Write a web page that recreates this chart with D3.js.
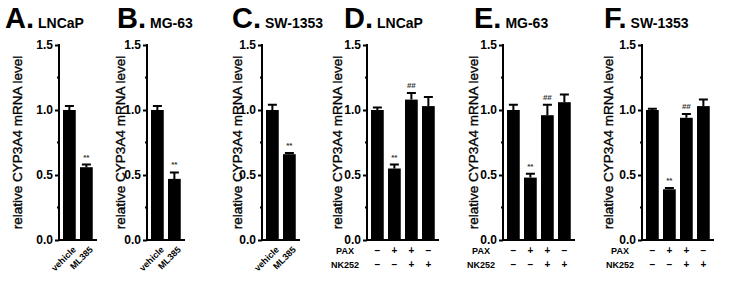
<!DOCTYPE html>
<html>
<head>
<meta charset="utf-8">
<script src="https://cdn.jsdelivr.net/npm/d3@7"></script>
<style>
  body { margin: 0; background: #fff; }
  svg { display: block; }
  text { font-family: Arial, "Liberation Sans", sans-serif; fill: #000; }
</style>
</head>
<body>
<div class="canvas"></div>
<script>
// values
const yTicks = [0, 0.5, 1.0, 1.5];
const mlLabels = ["vehicle", "ML385"];
const paxRow = ["–", "+", "+", "–"];
const nkRow = ["–", "–", "+", "+"];

const lncapML = [1.0, 0.56];
const lncapMLErr = [0.03, 0.02];
const mg63ML = [1.0, 0.47];
const mg63MLErr = [0.03, 0.05];
const swML = [1.0, 0.66];
const swMLErr = [0.04, 0.01];

const lncapPax = [1.0, 0.55, 1.08, 1.03];
const lncapPaxErr = [0.02, 0.03, 0.05, 0.07];
const mg63Pax = [1.0, 0.48, 0.96, 1.06];
const mg63PaxErr = [0.04, 0.03, 0.08, 0.06];
const swPax = [1.0, 0.39, 0.94, 1.03];
const swPaxErr = [0.01, 0.01, 0.03, 0.05];

const mlMarks = ["", "**"];
const paxMarks = ["", "**", "##", ""];

const panels = [
    { letter: "A.", cell: "LNCaP", ax: 59, lx: 17, tx: 5, vals: lncapML, errs: lncapMLErr, marks: mlMarks, kind: "ml" },
    { letter: "B.", cell: "MG-63", ax: 147, lx: 120, tx: 117, vals: mg63ML, errs: mg63MLErr, marks: mlMarks, kind: "ml" },
    { letter: "C.", cell: "SW-1353", ax: 262, lx: 237, tx: 232, vals: swML, errs: swMLErr, marks: mlMarks, kind: "ml" },
    { letter: "D.", cell: "LNCaP", ax: 367, lx: 337, tx: 344, vals: lncapPax, errs: lncapPaxErr, marks: paxMarks, kind: "pax" },
    { letter: "E.", cell: "MG-63", ax: 503, lx: 473, tx: 474, vals: mg63Pax, errs: mg63PaxErr, marks: paxMarks, kind: "pax" },
    { letter: "F.", cell: "SW-1353", ax: 642, lx: 608, tx: 604, vals: swPax, errs: swPaxErr, marks: paxMarks, kind: "pax" }
];

const svg = d3.select(".canvas")
    .append("svg")
    .attr("width", 729)
    .attr("height", 287);

const y = d3.scaleLinear().domain([0, 1.5]).range([240, 45]);

panels.forEach(p => {
    const g = svg.append("g");
    const n = p.vals.length;
    const step = 17;
    const x = d3.scaleBand()
        .domain(d3.range(n))
        .range([p.ax + 4, p.ax + 4 + n * step - 4.25])
        .paddingInner(0.25)
        .paddingOuter(0);
    const right = p.ax + 4 + n * step;

    // title
    const title = g.append("text")
        .attr("x", p.tx)
        .attr("y", 28);
    title.append("tspan")
        .style("font-size", "29px")
        .style("font-weight", "bold")
        .text(p.letter);
    title.append("tspan")
        .attr("dx", 4)
        .style("font-size", "14px")
        .style("font-weight", "bold")
        .text(p.cell);

    // y axis label
    g.append("text")
        .attr("transform", "translate(" + p.lx + "," + y(0.75) + ") rotate(-90)")
        .attr("text-anchor", "middle")
        .attr("dy", "0.35em")
        .style("font-size", "13.5px")
        .style("stroke", "#000")
        .style("stroke-width", 0.35)
        .text("relative CYP3A4 mRNA level");

    // y axis
    const yAxis = d3.axisLeft(y)
        .tickValues(yTicks)
        .tickFormat(d3.format(".1f"))
        .tickSize(4)
        .tickPadding(2);
    const ya = g.append("g")
        .attr("transform", "translate(" + p.ax + ",0)")
        .call(yAxis);
    ya.select(".domain").remove();
    ya.selectAll(".tick line").attr("stroke", "#000").attr("stroke-width", 2);
    ya.selectAll(".tick text")
        .style("font-size", "12px")
        .style("font-weight", "bold")
        .style("font-family", "Arial, 'Liberation Sans', sans-serif");

    // minor ticks
    g.selectAll(".minor")
        .data([0.25, 0.75, 1.25])
        .enter()
        .append("line")
        .attr("x1", p.ax - 2)
        .attr("x2", p.ax)
        .attr("y1", d => y(d))
        .attr("y2", d => y(d))
        .attr("stroke", "#000")
        .attr("stroke-width", 2);

    // axis lines
    g.append("line")
        .attr("x1", p.ax).attr("x2", p.ax)
        .attr("y1", y(1.5) - 1).attr("y2", y(0) + 1)
        .attr("stroke", "#000").attr("stroke-width", 2);
    g.append("line")
        .attr("x1", p.ax - 1).attr("x2", right)
        .attr("y1", y(0)).attr("y2", y(0))
        .attr("stroke", "#000").attr("stroke-width", 2);

    // bars
    g.selectAll(".bar")
        .data(p.vals)
        .enter()
        .append("rect")
        .attr("class", "bar")
        .attr("x", (d, i) => x(i))
        .attr("width", x.bandwidth())
        .attr("y", d => y(d))
        .attr("height", d => y(0) - y(d))
        .attr("fill", "#000");

    // error bars
    const cap = 9;
    g.selectAll(".err")
        .data(p.vals)
        .enter()
        .append("path")
        .attr("class", "err")
        .attr("d", (d, i) => {
            const cx = x(i) + x.bandwidth() / 2;
            const top = y(d + p.errs[i]);
            return "M" + cx + "," + y(d) + "V" + top + "M" + (cx - cap / 2) + "," + top + "H" + (cx + cap / 2);
        })
        .attr("stroke", "#000")
        .attr("stroke-width", 2)
        .attr("fill", "none");

    // significance marks
    g.selectAll(".sig")
        .data(p.marks)
        .enter()
        .append("text")
        .attr("x", (d, i) => x(i) + x.bandwidth() / 2)
        .attr("y", (d, i) => y(p.vals[i] + p.errs[i]) - 5)
        .attr("text-anchor", "middle")
        .style("font-size", "8px")
        .style("font-weight", "bold")
        .style("fill", "#333")
        .text(d => d);

    if (p.kind === "ml") {
        g.selectAll(".xl")
            .data(mlLabels)
            .enter()
            .append("text")
            .attr("transform", (d, i) => "translate(" + (x(i) + x.bandwidth() / 2 + 5) + ",248) rotate(-45)")
            .attr("text-anchor", "end")
            .attr("dy", "0.35em")
            .style("font-size", "9px")
            .style("font-weight", "bold")
            .text(d => d);
    } else {
        const rows = [["PAX", paxRow, 254], ["NK252", nkRow, 268]];
        rows.forEach(r => {
            g.append("text")
                .attr("x", p.ax - 22)
                .attr("y", r[2])
                .attr("text-anchor", "middle")
                .style("font-size", "9px")
                .style("font-weight", "bold")
                .text(r[0]);
            g.selectAll(".sign" + r[0])
                .data(r[1])
                .enter()
                .append("text")
                .attr("x", (d, i) => x(i) + x.bandwidth() / 2)
                .attr("y", r[2])
                .attr("text-anchor", "middle")
                .style("font-size", "10px")
                .style("font-weight", "bold")
                .text(d => d);
        });
    }
});
</script>
</body>
</html>
